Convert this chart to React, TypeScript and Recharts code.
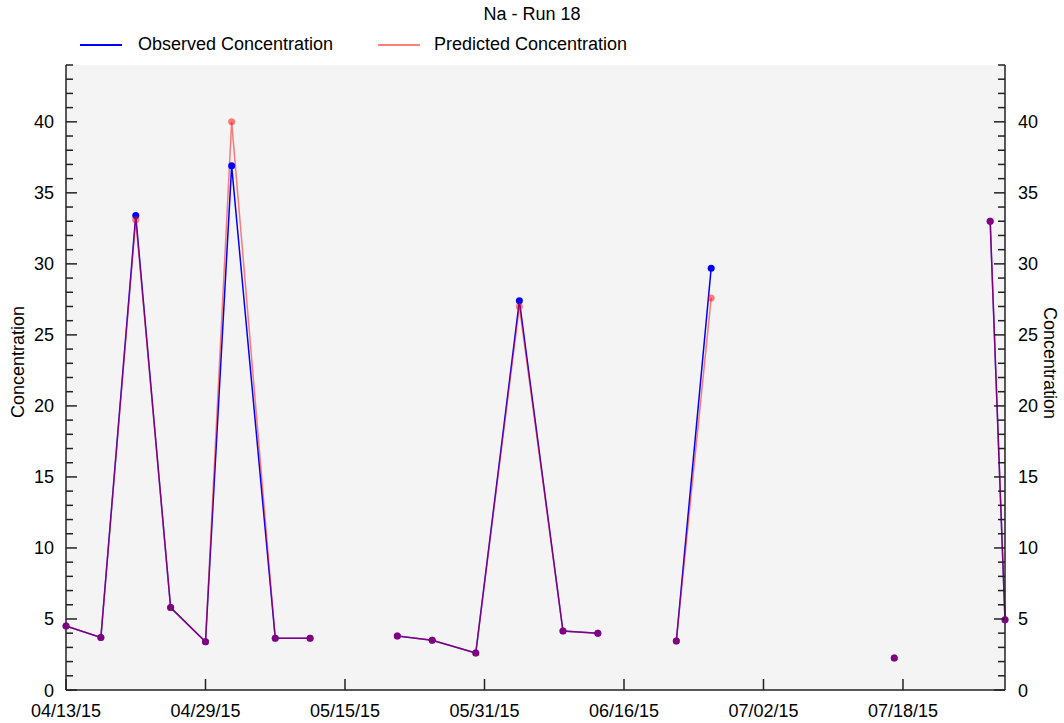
import React from 'react';
import { LineChart, Line, XAxis, YAxis, CartesianGrid } from 'recharts';

// sample day offsets from 04/13/15; null rows break the line between runs of samples
const sampleDays = [0, 4, 8, 12, 16, 19, 24, 28, 33, 38, 42, 47, 52, 57, 61, 65, 70, 74, 84, 95, 100, 106, 107.7];
const observed = [4.5, 3.7, 33.4, 5.8, 3.4, 36.9, 3.65, 3.65, null, 3.8, 3.5, 2.6, 27.4, 4.15, 4.0, null, 3.45, 29.7, null, 2.25, null, 33.0, 4.95];
const predicted = [4.5, 3.7, 33.1, 5.8, 3.4, 40.0, 3.65, 3.65, null, 3.8, 3.5, 2.6, 27.0, 4.15, 4.0, null, 3.45, 27.6, null, 2.25, null, 33.0, 4.95];

const xTickDays = [0, 16, 32, 48, 64, 80, 96];
const xTickLabels = ['04/13/15', '04/29/15', '05/15/15', '05/31/15', '06/16/15', '07/02/15', '07/18/15'];
const yTicks = Array.from({ length: 45 }, (_, i) => i);
const yDomain = [0, 44];

const data = sampleDays.map((day, i) => ({ day, observed: observed[i], predicted: predicted[i] }));

const FONT = "'Liberation Sans', Arial, sans-serif";
const FONT_SIZE = 18;

const LeftTick = ({ x, y, payload }: any) => {
  const major = payload.value % 5 === 0;
  return (
    <g>
      <line x1={x} x2={x + (major ? 11 : 7)} y1={y} y2={y} stroke="#222" strokeWidth={1.5} />
      {major && (
        <text x={x - 12} y={y + 6.5} textAnchor="end" fontSize={FONT_SIZE} fontFamily={FONT} fill="#000">
          {payload.value}
        </text>
      )}
    </g>
  );
};

const RightTick = ({ x, y, payload }: any) => {
  const major = payload.value % 5 === 0;
  return (
    <g>
      <line x1={x} x2={x - (major ? 11 : 7)} y1={y} y2={y} stroke="#222" strokeWidth={1.5} />
      {major && (
        <text x={x + 13} y={y + 6.5} textAnchor="start" fontSize={FONT_SIZE} fontFamily={FONT} fill="#000">
          {payload.value}
        </text>
      )}
    </g>
  );
};

const BottomTick = ({ x, y, payload }: any) => {
  const idx = xTickDays.indexOf(payload.value);
  return (
    <g>
      <line x1={x} x2={x} y1={y} y2={y - 11} stroke="#222" strokeWidth={1.5} />
      <text x={x} y={y + 27} textAnchor="middle" fontSize={FONT_SIZE} fontFamily={FONT} fill="#000">
        {xTickLabels[idx]}
      </text>
    </g>
  );
};

const legendItems = [
  { name: 'Observed Concentration', color: '#0000ff', opacity: 1, lineX: 80, textX: 138 },
  { name: 'Predicted Concentration', color: '#ff0000', opacity: 0.5, lineX: 378, textX: 434 },
];

export default function App() {
  return (
    <div style={{ position: 'absolute', left: 0, top: 0, width: 1064, height: 723, background: '#fff', fontFamily: FONT }}>
      <div style={{ position: 'absolute', left: 0, width: 1064, top: 4, textAlign: 'center', fontSize: FONT_SIZE, color: '#000' }}>
        Na - Run 18
      </div>
      {legendItems.map((item) => (
        <React.Fragment key={item.name}>
          <div
            style={{
              position: 'absolute',
              left: item.lineX,
              top: 44,
              width: 42,
              height: 1.5,
              background: item.color,
              opacity: item.opacity,
            }}
          />
          <div style={{ position: 'absolute', left: item.textX, top: 34, fontSize: FONT_SIZE, color: '#000', whiteSpace: 'nowrap' }}>
            {item.name}
          </div>
        </React.Fragment>
      ))}
      <div style={{ position: 'absolute', left: 0, top: 0 }}>
        <LineChart width={1064} height={723} data={data} margin={{ top: 65, right: 9, left: 16, bottom: 8 }}>
          <CartesianGrid fill="#f4f4f4" horizontal={false} vertical={false} />
          <XAxis
            xAxisId="top"
            orientation="top"
            dataKey="day"
            type="number"
            domain={[0, 107.7]}
            height={0}
            tick={false}
            tickLine={false}
            axisLine={{ stroke: '#222', strokeWidth: 1.5 }}
          />
          <XAxis
            dataKey="day"
            type="number"
            domain={[0, 107.7]}
            ticks={xTickDays}
            height={25}
            tickSize={0}
            tickMargin={0}
            tickLine={false}
            tick={<BottomTick />}
            axisLine={{ stroke: '#222', strokeWidth: 1.5 }}
            interval={0}
          />
          <YAxis
            yAxisId="left"
            domain={yDomain}
            ticks={yTicks}
            width={50}
            tickSize={0}
            tickMargin={0}
            tickLine={false}
            tick={<LeftTick />}
            interval={0}
            axisLine={{ stroke: '#222', strokeWidth: 1.5 }}
            label={{
              content: () => (
                <text x={18} y={362} transform="rotate(-90 18 362)" textAnchor="middle" dominantBaseline="central" fontSize={FONT_SIZE} fontFamily={FONT} fill="#000">
                  Concentration
                </text>
              ),
            }}
          />
          <YAxis
            yAxisId="right"
            orientation="right"
            domain={yDomain}
            ticks={yTicks}
            width={50}
            tickSize={0}
            tickMargin={0}
            tickLine={false}
            tick={<RightTick />}
            interval={0}
            axisLine={{ stroke: '#222', strokeWidth: 1.5 }}
            label={{
              content: () => (
                <text x={1050} y={363} transform="rotate(90 1050 363)" textAnchor="middle" dominantBaseline="central" fontSize={FONT_SIZE} fontFamily={FONT} fill="#000">
                  Concentration
                </text>
              ),
            }}
          />
          <Line
            yAxisId="left"
            dataKey="observed"
            type="linear"
            stroke="#0000ff"
            strokeWidth={1.5}
            dot={{ r: 3.5, fill: '#0000ff', stroke: 'none' }}
            activeDot={false}
            isAnimationActive={false}
          />
          {/* same scale on both sides, so predicted rides the right axis */}
          <Line
            yAxisId="right"
            dataKey="predicted"
            type="linear"
            stroke="#ff0000"
            strokeOpacity={0.5}
            strokeWidth={1.5}
            dot={{ r: 3.5, fill: '#ff0000', fillOpacity: 0.5, stroke: 'none' }}
            activeDot={false}
            isAnimationActive={false}
          />
        </LineChart>
      </div>
    </div>
  );
}
